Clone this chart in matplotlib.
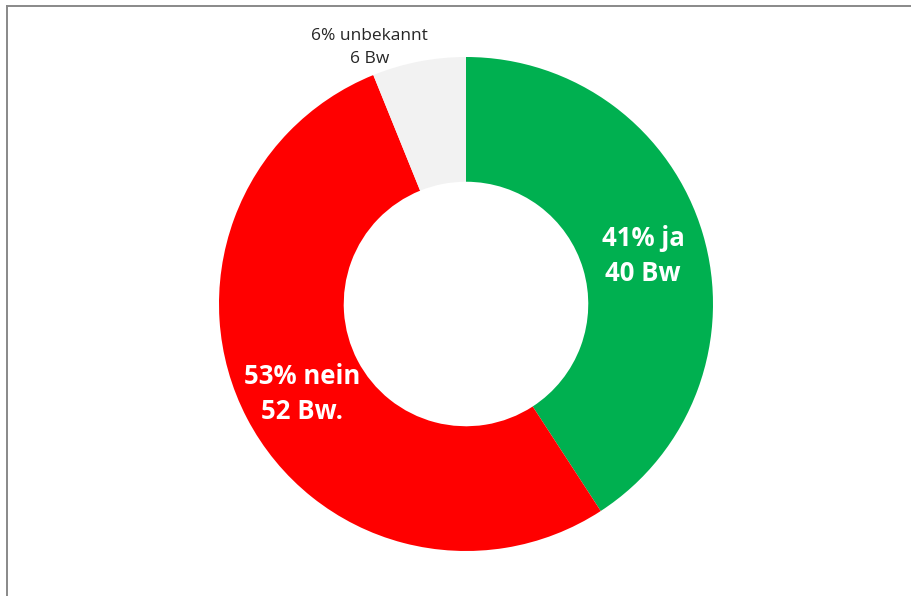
import numpy as np
import matplotlib
matplotlib.use('Agg')
import matplotlib.pyplot as plt
from matplotlib.lines import Line2D

# Antworten (Bw = Betriebe)
categories = ['ja', 'nein', 'unbekannt']
counts = [40, 52, 6]
percents = [41, 53, 6]
count_suffix = ['Bw', 'Bw.', 'Bw']
colors = ['#00B050', '#FF0000', '#F2F2F2']

W, H = 912, 596
CX, CY = 466, H - 304
R_OUT = 247
RING = 0.505

fig = plt.figure(figsize=(W / 100, H / 100), dpi=100)
ax = fig.add_axes([0, 0, 1, 1])

wedges, _ = ax.pie(counts, colors=colors, startangle=90, counterclock=False,
                   center=(CX, CY), radius=R_OUT,
                   wedgeprops=dict(width=R_OUT * RING, linewidth=0))
ax.set_xlim(0, W)
ax.set_ylim(0, H)
ax.set_aspect('equal')
ax.axis('off')

font = ['Open Sans', 'DejaVu Sans']
for w, cat, n, p, suf in zip(wedges, categories, counts, percents, count_suffix):
    mid = np.deg2rad((w.theta1 + w.theta2) / 2)
    label = f'{p}% {cat}\n{n} {suf}'
    if cat == 'unbekannt':
        # small slice: label sits outside the ring, nudged left
        mid += np.deg2rad(9.5)
        r = R_OUT * 1.11
        ax.text(CX + r * np.cos(mid), CY + r * np.sin(mid), label,
                ha='center', va='center', fontsize=12.5, color='#262626',
                family=font, linespacing=1.55)
    else:
        r = R_OUT * (1 - RING / 2)
        ax.text(CX + r * np.cos(mid), CY + r * np.sin(mid) - 5, label,
                ha='center', va='center', fontsize=18.5, color='white',
                fontweight='bold', family=font, linespacing=1.38)

# chart frame: only left and top edges visible in the crop
fig.add_artist(Line2D([7.5 / W, 7.5 / W], [0, 1 - 5.5 / H],
                      transform=fig.transFigure, color='#898989', lw=1.4))
fig.add_artist(Line2D([7.5 / W, 1], [1 - 5.5 / H, 1 - 5.5 / H],
                      transform=fig.transFigure, color='#898989', lw=1.4))

fig.savefig('out.png', dpi=100)
